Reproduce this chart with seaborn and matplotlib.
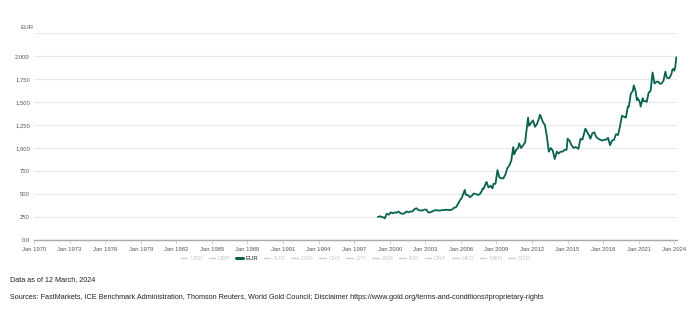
import matplotlib
matplotlib.use("Agg")
import matplotlib.pyplot as plt
from matplotlib.lines import Line2D
import seaborn as sns
import pandas as pd

# ---- data ----
dates = [
    "1999-01", "1999-03", "1999-05", "1999-07", "1999-08", "1999-10", "1999-12",
    "2000-02", "2000-04", "2000-06", "2000-08", "2000-10", "2000-12",
    "2001-02", "2001-04", "2001-06", "2001-08", "2001-10", "2001-12",
    "2002-02", "2002-04", "2002-06", "2002-08", "2002-10", "2002-12",
    "2003-02", "2003-04", "2003-06", "2003-08", "2003-10", "2003-12",
    "2004-02", "2004-04", "2004-06", "2004-08", "2004-10", "2004-12",
    "2005-02", "2005-04", "2005-06", "2005-08", "2005-10", "2005-12",
    "2006-02", "2006-05", "2006-06", "2006-08", "2006-10", "2006-12",
    "2007-02", "2007-04", "2007-06", "2007-08", "2007-10", "2007-11", "2007-12",
    "2008-02", "2008-03", "2008-05", "2008-07", "2008-09", "2008-10", "2008-12",
    "2009-02", "2009-04", "2009-06", "2009-08", "2009-10", "2009-12",
    "2010-02", "2010-04", "2010-06", "2010-07", "2010-09", "2010-11", "2010-12",
    "2011-02", "2011-04", "2011-06", "2011-08", "2011-09", "2011-10", "2011-12",
    "2012-02", "2012-04", "2012-06", "2012-08", "2012-09", "2012-10", "2012-12",
    "2013-02", "2013-04", "2013-06", "2013-08", "2013-10", "2013-12",
    "2014-02", "2014-04", "2014-06", "2014-08", "2014-10", "2014-12",
    "2015-01", "2015-03", "2015-05", "2015-07", "2015-09", "2015-11", "2015-12",
    "2016-02", "2016-04", "2016-07", "2016-09", "2016-11", "2016-12",
    "2017-02", "2017-04", "2017-06", "2017-08", "2017-10", "2017-12",
    "2018-02", "2018-04", "2018-06", "2018-08", "2018-10", "2018-12",
    "2019-02", "2019-04", "2019-06", "2019-08", "2019-10", "2019-12",
    "2020-02", "2020-03", "2020-05", "2020-07", "2020-08", "2020-10", "2020-11", "2020-12",
    "2021-02", "2021-03", "2021-05", "2021-06", "2021-08", "2021-09", "2021-11",
    "2022-01", "2022-03", "2022-05", "2022-07", "2022-09", "2022-10", "2022-12",
    "2023-02", "2023-04", "2023-05", "2023-06", "2023-08", "2023-10", "2023-11", "2023-12",
    "2024-01", "2024-02", "2024-03",
]
eur = [
    250, 258, 250, 245, 235, 285, 275,
    300, 290, 300, 295, 310, 290,
    285, 290, 310, 300, 310, 310,
    335, 345, 325, 320, 320, 330,
    330, 300, 300, 310, 320, 325,
    320, 320, 325, 325, 330, 325,
    325, 330, 350, 355, 390, 430,
    460, 545, 490, 490, 465, 480,
    505, 500, 490, 495, 530, 560, 555,
    610, 630, 570, 590, 560, 610, 610,
    760, 680, 670, 670, 710, 780,
    810, 860, 1010, 930, 980, 1000, 1050,
    1000, 1030, 1060, 1240, 1330, 1240, 1270,
    1300, 1230, 1260, 1320, 1360, 1340, 1280,
    1250, 1130, 960, 1000, 970, 880,
    960, 940, 960, 960, 980, 980,
    1100, 1080, 1030, 1000, 1010, 1000, 990,
    1100, 1090, 1210, 1170, 1130, 1100,
    1160, 1170, 1120, 1100, 1090, 1080,
    1090, 1090, 1110, 1030, 1080, 1090,
    1150, 1140, 1230, 1350, 1340, 1330,
    1450, 1450, 1590, 1620, 1680, 1610, 1520, 1540,
    1500, 1450, 1540, 1510, 1510, 1500, 1600,
    1620, 1820, 1700, 1720, 1720, 1700, 1700,
    1730, 1830, 1780, 1760, 1760, 1800, 1850, 1860,
    1840, 1880, 1985,
]
currencies = ["USD", "GBP", "EUR", "AUD", "CAD", "CHF", "JPY", "ZAR",
              "INR", "CNY", "HKD", "MXN", "SGD"]
active = "EUR"
yticks = [0, 250, 500, 750, 1000, 1250, 1500, 1750, 2000, 2250]
ytick_labels = ["0.0", "250", "500", "750", "1,000", "1,250", "1,500",
                "1,750", "2,000", ""]
xtick_years = list(range(1970, 2025, 3))

GREEN = "#07624f"
GRID = "#e8e8e8"
TXT = "#555555"

df = pd.DataFrame({"date": pd.to_datetime(dates), "EUR": eur})

sns.set_theme(style="white")
plt.rcParams["font.family"] = ["Liberation Sans", "DejaVu Sans"]

fig = plt.figure(figsize=(7.0, 3.23), dpi=100)
ax = fig.add_axes([0.0486, 0.257, 0.918, 0.641])

sns.lineplot(data=df, x="date", y="EUR", ax=ax, color=GREEN, linewidth=1.3)

ax.set_xlim(pd.Timestamp("1970-01-01"), pd.Timestamp("2024-03-12"))
ax.set_ylim(0, 2250)

ax.set_yticks(yticks)
ax.set_yticklabels(ytick_labels)
xt = [pd.Timestamp(f"{y}-01-01") for y in xtick_years]
ax.set_xticks(xt)
ax.set_xticklabels([f"Jan {y}" for y in xtick_years])

ax.grid(axis="y", color=GRID, linewidth=0.8)
ax.grid(axis="x", visible=False)
for s in ["top", "right", "left"]:
    ax.spines[s].set_visible(False)
ax.spines["bottom"].set_color("#aaaaaa")
ax.spines["bottom"].set_linewidth(1.0)

ax.tick_params(axis="y", length=0, labelsize=4.2, labelcolor=TXT, pad=3)
ax.tick_params(axis="x", length=3, width=0.6, color="#cccccc",
               labelsize=4.2, labelcolor=TXT, pad=2, bottom=True)
ax.set_xlabel("")
ax.set_ylabel("")

fig.text(0.029, 0.916, "EUR", fontsize=4.5, color=TXT, ha="left", va="center")

# legend
handles = []
for c in currencies:
    if c == active:
        handles.append(Line2D([], [], color=GREEN, linewidth=2.2))
    else:
        handles.append(Line2D([], [], color="#d0d0d0", linewidth=1.0))
leg = fig.legend(handles, currencies, loc="center", bbox_to_anchor=(0.508, 0.2),
                 ncol=len(currencies), frameon=False, fontsize=4.3,
                 handlelength=1.1, handletextpad=0.45, columnspacing=0.95)
for t, c in zip(leg.get_texts(), currencies):
    t.set_color("#222222" if c == active else "#c8c8c8")

fig.text(0.014, 0.133, "Data as of 12 March, 2024", fontsize=5.2,
         color="#222222", ha="left", va="center")
fig.text(0.014, 0.08,
         "Sources: FastMarkets, ICE Benchmark Administration, Thomson Reuters, "
         "World Gold Council; Disclaimer https://www.gold.org/terms-and-conditions#proprietary-rights",
         fontsize=5.2, color="#222222", ha="left", va="center")

fig.savefig("out.png", dpi=100, facecolor="white")
